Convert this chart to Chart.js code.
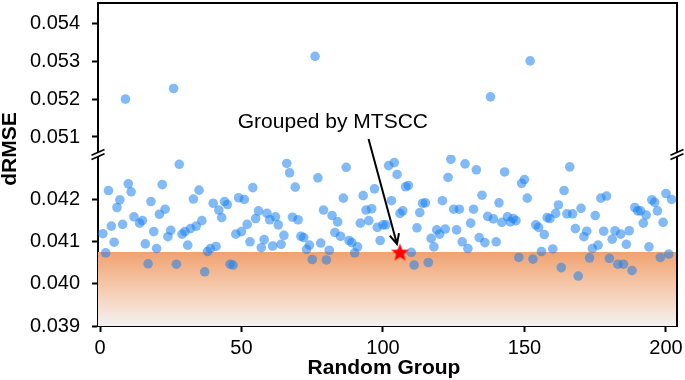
<!DOCTYPE html>
<html>
<head>
<meta charset="utf-8">
<script src="https://cdn.jsdelivr.net/npm/chart.js@4.4.1/dist/chart.umd.min.js"></script>
<style>
    html, body { margin: 0; padding: 0; background: #fff; }
    canvas { display: block; }
</style>
</head>
<body>
<canvas id="chart" width="685" height="380"></canvas>
<script>
// group index = firstGroup + position in the array (null = no point read)
const firstGroup = 1;

const drmse = [
    0.04118, 0.04073, 0.04220, 0.04136, 0.04098, 0.04180, 0.04198, 0.04140, 0.05200, 0.04236,
    0.04217, 0.04158, null,    0.04143, 0.04149, 0.04094, 0.04047, 0.04194, 0.04123, 0.04083,
    0.04164, 0.04234, 0.04176, 0.04111, 0.04126, 0.05228, 0.04046, 0.04282, 0.04117, 0.04123,
    0.04091, 0.04130, 0.04200, 0.04136, 0.04221, 0.04149, 0.04028, 0.04076, 0.04083, 0.04190,
    0.04088, 0.04174, 0.04156, 0.04194, 0.04187, 0.04046, 0.04044, 0.04117, 0.04203, 0.04123,
    0.04199, 0.04140, 0.04099, 0.04227, 0.04154, 0.04172, 0.04085, 0.04104, 0.04166, 0.04151,
    0.04089, 0.04158, 0.04139, 0.04093, 0.04114, 0.04284, 0.04262, 0.04157, 0.04228, 0.04151,
    0.04112, 0.04109, 0.04081, 0.04091, 0.04057, 0.05313, 0.04250, 0.04096, 0.04174, 0.04056,
    0.04079, 0.04161, 0.04121, 0.04146, 0.04112, 0.04202, 0.04275, 0.04102, 0.04097, 0.04073,
    0.04087, 0.04143, 0.04208, 0.04174, 0.04149, 0.04177, 0.04224, 0.04133, 0.04102, 0.04139,
    0.04139, 0.04279, 0.04196, 0.04286, 0.04258, 0.04166, 0.04172, 0.04229, 0.04232, 0.04074,
    0.04044, 0.04132, 0.04168, 0.04190, 0.04191, 0.04050, 0.04107, 0.04087, 0.04127, 0.04117,
    0.04196, 0.04129, 0.04251, 0.04294, 0.04176, 0.04127, 0.04176, 0.04099, 0.04283, 0.04083,
    0.04143, 0.04176, 0.04269, 0.04109, 0.04209, 0.04097, 0.04159, 0.05206, 0.04153, 0.04099,
    0.04191, 0.04145, 0.04264, 0.04158, 0.04146, 0.04154, 0.04149, 0.04062, 0.04237, 0.04246,
    0.04202, 0.05301, 0.04058, 0.04139, 0.04133, 0.04076, 0.04116, 0.04156, 0.04154, 0.04082,
    0.04166, 0.04186, 0.04038, 0.04220, 0.04165, 0.04276, 0.04165, 0.04130, 0.04018, 0.04178,
    0.04111, 0.04124, 0.04061, 0.04083, 0.04161, 0.04091, 0.04202, 0.04124, 0.04207, 0.04060,
    0.04105, 0.04125, 0.04046, 0.04117, 0.04046, 0.04093, 0.04125, 0.04031, 0.04180, 0.04172,
    0.04172, 0.04143, 0.04162, 0.04087, 0.04198, 0.04192, 0.04172, 0.04062, 0.04145, 0.04213,
    0.04070, 0.04199
];

const mtsccGroup = 106;
const mtsccValue = 0.04075;

const xTicks = [0, 50, 100, 150, 200];
const lowTicks = [0.039, 0.040, 0.041, 0.042];
const highTicks = [0.051, 0.052, 0.053, 0.054];

const xRange = [-0.71, 203.9];
const lowRange = [0.039, 0.04304];
const highRange = [0.050525, 0.054536];

const xTitle = "Random Group";
const yTitle = "dRMSE";
const noteText = "Grouped by MTSCC";
const noteAt = { x: 82.3, y: 0.05125 };
const arrowFrom = { x: 94.9, y: 0.05095 };

const lowPoints = [];
const highPoints = [];

drmse.forEach((v, i) => {
    if (v === null) {
        return;
    }
    const p = { x: firstGroup + i, y: v };
    if (v > lowRange[1]) {
        highPoints.push(p);
    } else {
        lowPoints.push(p);
    }
});

function makeStar(r) {
    const c = document.createElement("canvas");
    c.width = c.height = Math.ceil(r * 2 + 2);
    const g = c.getContext("2d");
    g.translate(c.width / 2, c.height / 2 + r * 0.1);
    g.beginPath();
    for (let i = 0; i < 10; i++) {
        const rad = i % 2 === 0 ? r : r * 0.42;
        const a = -Math.PI / 2 + i * Math.PI / 5;
        g.lineTo(rad * Math.cos(a), rad * Math.sin(a));
    }
    g.closePath();
    g.fillStyle = "#ff0000";
    g.fill();
    return c;
}

// label overhang must not push the plot area around
function noPadding(s) {
    s.paddingTop = 0;
    s.paddingBottom = 0;
    s.paddingLeft = 0;
    s.paddingRight = 0;
}

const tickFont = { family: "Liberation Sans", size: 20 };
const pointColor = "rgba(25,130,240,0.55)";

function yAxis(range, ticks, weight, order) {
    return {
        type: "linear",
        position: "left",
        stack: "drmse",
        stackWeight: weight,
        weight: order,
        min: range[0],
        max: range[1],
        afterBuildTicks: (s) => {
            s.ticks = ticks.map((v) => ({ value: v }));
        },
        afterFit: (s) => {
            s.width = 98;
            noPadding(s);
        },
        grid: {
            drawOnChartArea: false,
            tickLength: 6,
            tickWidth: 2,
            tickColor: "#000"
        },
        border: { color: "#000", width: 2 },
        ticks: {
            color: "#000",
            font: tickFont,
            padding: 12,
            callback: (v) => v.toFixed(3)
        }
    };
}

const decorations = {
    id: "decorations",
    afterDraw(chart) {
        const { ctx, chartArea: a, scales } = chart;
        const x = scales.x;
        const top = scales.yTop;
        ctx.save();
        ctx.strokeStyle = "#000";
        ctx.lineWidth = 2;

        ctx.beginPath();
        ctx.moveTo(a.left - 1, a.top);
        ctx.lineTo(a.right, a.top);
        ctx.lineTo(a.right, a.bottom + 1);
        ctx.stroke();

        // axis break marks
        const yb = scales.y.top - 0.5;
        [a.left, a.right].forEach((x0) => {
            ctx.fillStyle = "#fff";
            ctx.fillRect(x0 - 2, yb - 2.2, 4, 4.4);
            ctx.lineWidth = 1.6;
            [-2.2, 2.2].forEach((d) => {
                ctx.beginPath();
                ctx.moveTo(x0 - 6.5, yb + d + 2.9);
                ctx.lineTo(x0 + 6.5, yb + d - 2.9);
                ctx.stroke();
            });
        });

        // arrow to the MTSCC star
        const sx = x.getPixelForValue(arrowFrom.x);
        const sy = top.getPixelForValue(arrowFrom.y);
        const tx = x.getPixelForValue(mtsccGroup) - 3;
        const ty = scales.y.getPixelForValue(mtsccValue) - 8;
        const ang = Math.atan2(ty - sy, tx - sx);
        ctx.lineWidth = 2;
        ctx.beginPath();
        ctx.moveTo(sx, sy);
        ctx.lineTo(tx, ty);
        ctx.moveTo(tx - 11 * Math.cos(ang - 0.45), ty - 11 * Math.sin(ang - 0.45));
        ctx.lineTo(tx, ty);
        ctx.lineTo(tx - 11 * Math.cos(ang + 0.45), ty - 11 * Math.sin(ang + 0.45));
        ctx.stroke();

        ctx.fillStyle = "#000";
        ctx.textAlign = "center";
        ctx.textBaseline = "alphabetic";
        ctx.font = "21px 'Liberation Sans'";
        ctx.fillText(noteText, x.getPixelForValue(noteAt.x), top.getPixelForValue(noteAt.y));

        ctx.font = "bold 21px 'Liberation Sans'";
        ctx.fillText(xTitle, 384, 374);

        ctx.translate(16, 149);
        ctx.rotate(-Math.PI / 2);
        ctx.fillText(yTitle, 0, 0);
        ctx.restore();
    }
};

new Chart(document.getElementById("chart"), {
    type: "scatter",

    data: {
        datasets: [
            {
                data: [{ x: mtsccGroup, y: mtsccValue }],
                yAxisID: "y",
                pointStyle: makeStar(9.5),
                pointRadius: 9,
                order: 0
            },
            {
                data: lowPoints,
                yAxisID: "y",
                backgroundColor: pointColor,
                borderWidth: 0,
                pointRadius: 4.8,
                order: 1
            },
            {
                data: highPoints,
                yAxisID: "yTop",
                backgroundColor: pointColor,
                borderWidth: 0,
                pointRadius: 4.8,
                order: 1
            },
            {
                type: "line",
                data: [
                    { x: xRange[0], y: mtsccValue },
                    { x: xRange[1], y: mtsccValue }
                ],
                yAxisID: "y",
                fill: "start",
                borderWidth: 0,
                borderColor: "transparent",
                pointRadius: 0,
                order: 2,
                backgroundColor: (c) => {
                    const chart = c.chart;
                    if (!chart.chartArea) {
                        return "rgba(240,160,110,1)";
                    }
                    const ys = chart.scales.y;
                    const g = chart.ctx.createLinearGradient(0, ys.getPixelForValue(mtsccValue), 0, ys.bottom);
                    g.addColorStop(0, "rgb(240,162,112)");
                    g.addColorStop(0.5, "rgb(246,204,176)");
                    g.addColorStop(1, "rgb(244,242,242)");
                    return g;
                }
            }
        ]
    },

    options: {
        responsive: false,
        animation: false,
        devicePixelRatio: 1,

        layout: {
            autoPadding: false,
            padding: { top: 3, right: 8, left: 0, bottom: 0 }
        },

        plugins: {
            legend: { display: false },
            tooltip: { enabled: false }
        },

        scales: {
            x: {
                type: "linear",
                min: xRange[0],
                max: xRange[1],
                afterBuildTicks: (s) => {
                    s.ticks = xTicks.map((v) => ({ value: v }));
                },
                afterFit: (s) => {
                    s.height = 54;
                    noPadding(s);
                },
                grid: {
                    drawOnChartArea: false,
                    tickLength: 6,
                    tickWidth: 2,
                    tickColor: "#000"
                },
                border: { color: "#000", width: 2 },
                ticks: {
                    color: "#000",
                    font: tickFont,
                    padding: 4,
                    maxRotation: 0
                }
            },

            y: yAxis(lowRange, lowTicks, 171, 1),

            yTop: yAxis(highRange, highTicks, 152, 2)
        }
    },

    plugins: [decorations]
});
</script>
</body>
</html>
